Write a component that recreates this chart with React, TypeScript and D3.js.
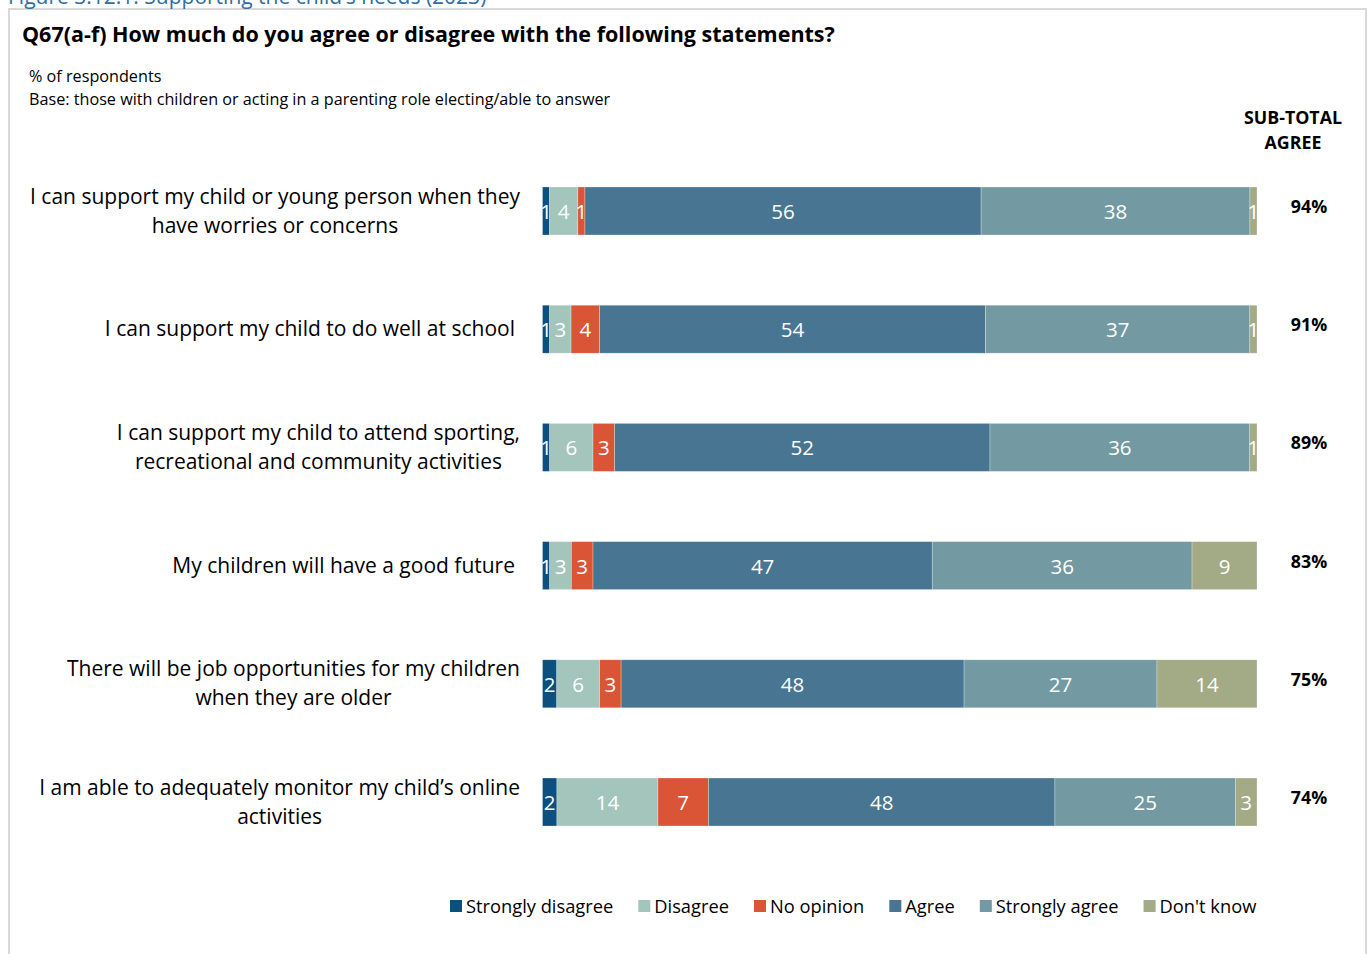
import React, { useEffect, useRef } from "react";
import * as d3 from "d3";

const categories: string[][] = [
  ["I can support my child or young person when they", "have worries or concerns"],
  ["I can support my child to do well at school"],
  ["I can support my child to attend sporting,", "recreational and community activities"],
  ["My children will have a good future"],
  ["There will be job opportunities for my children", "when they are older"],
  ["I am able to adequately monitor my child\u2019s online", "activities"],
];

const seriesNames = ["Strongly disagree", "Disagree", "No opinion", "Agree", "Strongly agree", "Don't know"];
const seriesColors = ["#0b507e", "#a4c5bc", "#d95536", "#487591", "#739aa2", "#a3aa86"];

const stronglyDisagree = [1, 1, 1, 1, 2, 2];
const disagree = [4, 3, 6, 3, 6, 14];
const noOpinion = [1, 4, 3, 3, 3, 7];
const agree = [56, 54, 52, 47, 48, 48];
const stronglyAgree = [38, 37, 36, 36, 27, 25];
const dontKnow = [1, 1, 1, 9, 14, 3];
const subTotalAgree = [94, 91, 89, 83, 75, 74];

const FONT = "'Open Sans', sans-serif";

export default function App() {
  const ref = useRef<SVGSVGElement | null>(null);

  useEffect(() => {
    const svg = d3.select(ref.current);
    svg.selectAll("*").remove();

    // frame
    svg.append("rect").attr("x", 9).attr("y", 9).attr("width", 1357).attr("height", 960)
      .attr("fill", "none").attr("stroke", "#d9d9d9").attr("stroke-width", 2);

    // caption (clipped at top as in the source)
    svg.append("text").attr("x", 8).attr("y", 4).attr("font-family", FONT).attr("font-size", 21)
      .attr("fill", "#2e6da4").text("Figure 3.12.1: Supporting the child\u2019s needs (2023)");

    svg.append("text").attr("x", 22).attr("y", 42).attr("font-family", FONT).attr("font-size", 21.5)
      .attr("font-weight", "bold").attr("fill", "#000")
      .text("Q67(a-f) How much do you agree or disagree with the following statements?");

    svg.append("text").attr("x", 29).attr("y", 82).attr("font-family", FONT).attr("font-size", 16.2)
      .attr("fill", "#000").text("% of respondents");
    svg.append("text").attr("x", 29).attr("y", 105).attr("font-family", FONT).attr("font-size", 16.2)
      .attr("fill", "#000").text("Base: those with children or acting in a parenting role electing/able to answer");

    const hdr = svg.append("text").attr("font-family", FONT).attr("font-size", 17.8).attr("font-weight", "bold")
      .attr("text-anchor", "middle").attr("fill", "#000");
    hdr.append("tspan").attr("x", 1293).attr("y", 124).text("SUB-TOTAL");
    hdr.append("tspan").attr("x", 1293).attr("y", 149).text("AGREE");

    const idx = d3.range(categories.length);
    const y = d3.scalePoint<number>().domain(idx).range([211, 802]);
    const barH = 48;
    const allSeries = [stronglyDisagree, disagree, noOpinion, agree, stronglyAgree, dontKnow];

    idx.forEach((i) => {
      const vals = allSeries.map((s) => s[i]);
      const total = d3.sum(vals);
      const x = d3.scaleLinear().domain([0, total]).range([542.5, 1257]);
      const cy = y(i)!;
      let cum = 0;
      const g = svg.append("g");
      vals.forEach((v, k) => {
        const x0 = x(cum), x1 = x(cum + v);
        cum += v;
        g.append("rect").attr("x", x0).attr("y", cy - barH / 2).attr("width", x1 - x0).attr("height", barH)
          .attr("fill", seriesColors[k]).attr("stroke", "rgba(255,255,255,0.45)").attr("stroke-width", 0.6);
        g.append("text").attr("x", (x0 + x1) / 2).attr("y", cy + 8).attr("text-anchor", "middle")
          .attr("font-family", FONT).attr("font-size", 20.5).attr("fill", "#fff").text(String(v));
      });

      // subtotal
      svg.append("text").attr("x", 1309).attr("y", cy + 2).attr("text-anchor", "middle")
        .attr("font-family", FONT).attr("font-size", 17.8).attr("font-weight", "bold").attr("fill", "#000")
        .text(subTotalAgree[i] + "%");

      // category label
      const lines = categories[i];
      const lbl = svg.append("text").attr("font-family", FONT).attr("font-size", 21).attr("fill", "#000")
        .attr("text-anchor", "middle");
      const spans = lines.map((ln, j) =>
        lbl.append("tspan").attr("y", cy + 7 + (j - (lines.length - 1) / 2) * 29).text(ln)
      );
      const widths = spans.map((s) => (s.node() as SVGTSpanElement).getComputedTextLength());
      const maxW = d3.max(widths)!;
      const right = lines.length > 1 ? 520 : 515;
      spans.forEach((s) => s.attr("x", right - maxW / 2));
    });

    // legend
    const lg = svg.append("g");
    let lx = 450;
    seriesNames.forEach((name, k) => {
      lg.append("rect").attr("x", lx).attr("y", 900).attr("width", 12).attr("height", 12).attr("fill", seriesColors[k]);
      const t = lg.append("text").attr("x", lx + 16).attr("y", 913).attr("font-family", FONT).attr("font-size", 18.3)
        .attr("fill", "#000").text(name);
      const w = (t.node() as SVGTextElement).getComputedTextLength();
      lx += 16 + w + 25;
    });
  }, []);

  return (
    <svg ref={ref} width={1370} height={954}
      style={{ position: "absolute", left: 0, top: 0, background: "#fff", display: "block" }} />
  );
}
